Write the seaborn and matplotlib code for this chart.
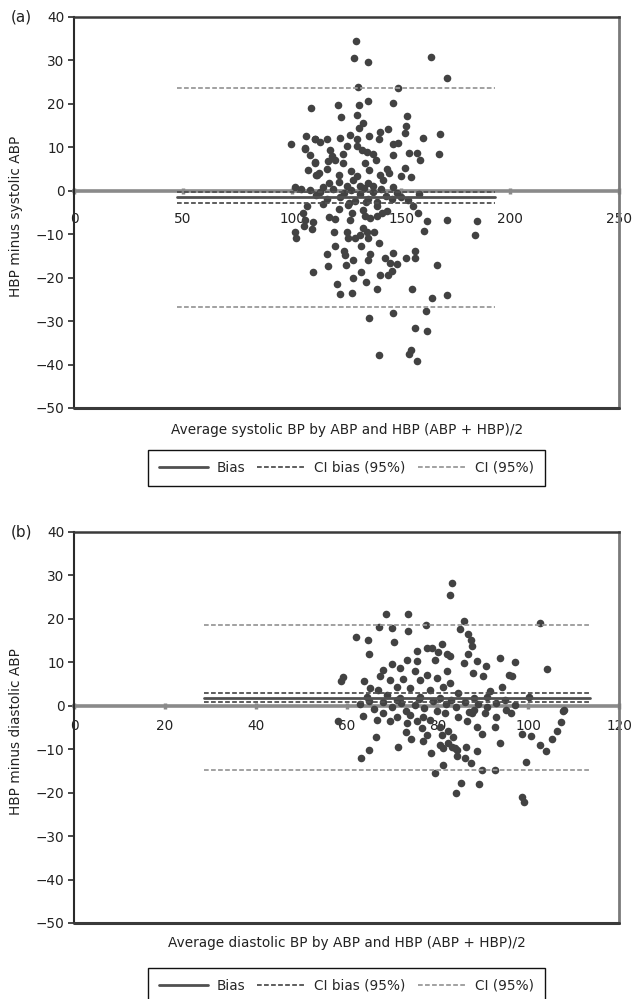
import pandas as pd
import matplotlib
matplotlib.use("Agg")
import matplotlib.pyplot as plt
import seaborn as sns

# ---- panel (a): systolic ----
sys_mean = [
    129.4, 128.4, 134.9, 163.6, 171.1, 130.1, 148.8, 108.7, 121.0, 134.7, 130.9, 146.2,
    122.5, 129.8, 152.6, 132.4, 130.6, 144.2, 152.3, 151.8, 140.5, 135.5, 106.6, 126.6,
    122.2, 110.7, 112.8, 115.9, 99.4, 160.2, 167.9, 130.0, 139.8, 148.5, 146.5, 125.2,
    105.8, 117.4, 129.7, 132.0, 134.4, 108.3, 123.2, 118.5, 137.2, 146.3, 153.5, 157.2,
    167.4, 158.7, 138.4, 110.4, 116.4, 119.7, 123.5, 133.5, 151.8, 107.3, 112.5, 115.9,
    126.9, 135.5, 143.4, 144.5, 110.9, 121.3, 129.7, 140.4, 149.9, 154.4, 117.1, 121.7,
    128.1, 135.0, 141.9, 101.2, 108.3, 114.4, 125.1, 131.2, 137.3, 146.5,
    106.0, 110.6, 111.3, 110.6,
    104, 111, 116, 119, 122, 124, 127, 129, 131, 133, 135, 137, 139, 141, 143, 146,
    148, 150, 153, 158, 113, 126, 134,
    106.7, 114.4, 121.3, 125.8, 132.7, 138.8, 143.4, 155.6, 157.9, 109.8, 105.5, 109.0,
    117.1, 119.7, 126.6, 127.4, 133.5, 135.8, 138.8, 141.1, 161.8, 171.0, 184.7, 183.9,
    160.7, 101.4, 101.8, 119.3, 125.1, 125.8, 128.9, 132.7, 134.5, 131.2, 137.6, 135.0,
    139.9, 119.7, 131.5, 124.0, 156.4, 115.9, 124.3, 135.8, 146.2, 156.4, 152.3, 135.0,
    142.7, 128.1, 116.7, 124.6, 145.0, 148.3, 145.7, 144.2, 166.7, 109.5, 131.7, 128.1,
    140.4, 133.8, 120.5, 122.0, 127.4, 138.8, 154.9, 164.1, 171.0, 146.2, 161.3, 135.5,
    156.4, 161.8, 140.1, 153.7, 154.6, 157.5, 105.2, 106.0,
]
sys_diff = [
    34.4, 30.6, 29.6, 30.9, 25.9, 23.8, 23.7, 19.1, 19.7, 20.7, 19.7, 20.3,
    16.9, 17.5, 17.2, 15.6, 14.4, 14.3, 15.0, 13.4, 13.6, 12.7, 12.5, 12.8,
    12.1, 11.9, 11.3, 11.8, 10.7, 12.1, 13.1, 11.8, 11.9, 11.1, 10.8, 10.4,
    9.9, 9.3, 10.2, 9.4, 9.0, 8.3, 8.5, 7.9, 8.4, 8.3, 8.8, 8.8,
    8.5, 7.1, 7.1, 6.7, 6.8, 7.1, 6.4, 6.4, 5.2, 4.8, 4.2, 5.0,
    4.5, 4.7, 5.0, 4.1, 3.7, 3.7, 3.5, 3.7, 3.5, 3.1, 1.8, 2.1,
    2.5, 1.8, 2.5, 0.8, 0.1, 0.8, 1.0, 1.2, 1.0, 0.9,
    9.6, 6.5, 3.7, 11.8,
    0.3, -1.0, -2.0, 0.5, -1.5, -0.5, 0.2, -2.3, -0.8, 0.6, -1.8, -0.3, -2.6, 0.4, -1.2, -2.0,
    -0.5, -1.5, -2.2, -0.8, -0.2, -2.8, -2.6,
    -3.4, -3.1, -4.1, -3.2, -4.4, -3.4, -4.6, -3.6, -5.1, -7.2, -8.0, -8.8,
    -6.1, -6.5, -6.7, -5.1, -5.7, -6.3, -5.9, -5.1, -6.9, -6.8, -6.9, -10.1,
    -9.2, -9.6, -10.8, -9.4, -9.4, -10.8, -10.9, -8.6, -9.4, -10.1, -9.5, -10.9,
    -12.1, -12.7, -12.8, -13.8, -13.8, -14.6, -14.7, -14.6, -14.4, -15.4, -15.5, -15.9,
    -15.5, -15.9, -17.3, -17.1, -16.7, -16.9, -18.4, -19.4, -17.1, -18.7, -18.6, -20.1,
    -19.4, -20.9, -21.5, -23.8, -23.5, -22.6, -22.6, -24.7, -24.1, -28.2, -27.6, -29.3,
    -31.6, -32.2, -37.8, -37.6, -36.6, -39.1, -5.1, -6.7,
]
sys_range = [47, 193]
sys_bias = -1.5
sys_ci_bias = [-0.2, -2.9]
sys_ci = [23.7, -26.8]

# ---- panel (b): diastolic ----
dia_mean = [
    83.3, 82.8, 68.7, 73.6, 67.2, 70.0, 77.5, 85.8, 102.5, 84.9, 73.6, 62.0,
    64.8, 86.8, 87.4, 87.6, 70.5, 65.0, 75.5, 77.7, 78.8, 81.1, 80.2, 82.1,
    82.8, 86.8, 93.7, 97.1, 73.3, 75.5, 79.4, 70.0, 85.8, 88.7, 90.6, 104.2,
    59.2, 58.8, 68.1, 71.8, 75.1, 77.7, 82.1, 87.8, 90.0, 95.7, 96.5, 63.9,
    67.4, 69.6, 72.5, 76.2, 79.9, 82.8, 94.2, 65.2, 67.0, 71.1, 74.0, 78.4,
    81.3, 84.6, 91.6, 64.5, 68.9, 71.8, 76.2, 80.6, 88.0, 90.9, 94.9, 100.1,
    63, 66, 68, 70, 72, 73, 75, 77, 79, 80, 82, 84, 86, 88, 89, 91, 93, 95, 97,
    65, 71, 76, 83, 87,
    58.2, 63.7, 66.7, 68.1, 69.6, 71.1, 74.0, 73.3, 75.6, 76.9, 78.4, 76.6,
    73.1, 77.7, 66.5, 74.2, 76.9, 65.0, 63.1, 71.4, 80.6, 82.4, 83.5, 81.0,
    81.7, 84.6, 86.5, 87.6, 88.7, 89.9, 92.7, 92.9, 96.3, 90.5, 80.6, 81.3,
    82.4, 83.2, 83.9, 84.3, 86.3, 78.6, 84.3, 86.1, 87.5, 88.8, 93.7, 81.3,
    79.4, 89.8, 92.6, 85.2, 89.1, 84.1, 98.7, 100.5, 102.5, 103.9, 99.6, 98.6,
    99.1, 105.2, 106.3, 107.3, 107.6, 107.8,
]
dia_diff = [
    28.3, 25.5, 21.2, 21.1, 18.2, 18.0, 18.7, 19.4, 19.1, 17.7, 17.1, 15.8,
    15.2, 16.4, 15.2, 13.7, 14.6, 12.0, 12.7, 13.3, 13.3, 14.1, 12.3, 11.8,
    11.4, 11.8, 11.1, 10.0, 10.6, 10.2, 10.6, 9.7, 9.8, 10.2, 9.1, 8.4,
    6.6, 5.7, 8.3, 8.7, 7.9, 7.1, 7.9, 7.5, 6.9, 7.1, 6.8, 5.7,
    6.8, 6.0, 6.1, 6.0, 6.4, 5.2, 4.4, 4.1, 3.7, 4.4, 4.1, 3.7,
    4.4, 2.9, 3.3, 2.1, 2.5, 1.8, 2.1, 1.8, 1.8, 2.1, 1.4, 2.1,
    0.5, -0.8, 0.9, -0.3, 0.6, -1.2, 0.2, -0.6, 1.0, -1.1, 0.3, -0.4, 0.8, -0.9, 0.4, -0.2, 0.7, -1.0, 0.1,
    1.2, 1.3, 1.5, 1.4, -1.5,
    -3.6, -2.3, -3.2, -1.7, -3.6, -2.5, -2.1, -4.0, -3.4, -2.5, -3.2, -5.1,
    -6.1, -6.7, -7.1, -7.7, -8.2, -10.1, -12.1, -9.5, -4.8, -5.9, -7.1, -6.7,
    -1.7, -2.5, -3.6, -1.7, -4.8, -6.5, -4.8, -2.5, -1.7, -1.7, -9.0, -9.7,
    -8.6, -9.4, -9.7, -10.1, -9.4, -10.9, -11.5, -12.1, -13.2, -10.5, -8.6, -13.6,
    -15.5, -14.7, -14.9, -17.7, -18.0, -20.0, -6.6, -7.0, -9.1, -10.4, -12.9, -20.9,
    -22.1, -7.7, -5.9, -3.8, -1.1, -0.9,
]
dia_range = [28.5, 113.5]
dia_bias = 1.8
dia_ci_bias = [2.9, 0.8]
dia_ci = [18.5, -14.9]

sns.set_style("white")
plt.rcParams["font.family"] = ["DejaVu Sans"]

fig = plt.figure(figsize=(6.33, 9.99), dpi=100)
ax_a = fig.add_axes([0.117, 0.5916, 0.861, 0.3914])
ax_b = fig.add_axes([0.117, 0.0761, 0.861, 0.3914])

dot_col = "#424242"
dark = "#505050"
light = "#9a9a9a"
txt = "#222222"
fs = 9.8


def panel(ax, xs, ys, xmax, xstep, xr, bias, ci_bias, ci, xlabel, ylabel, tag, pad,
          xlab_y, leg_y):
    df = pd.DataFrame({"mean": xs, "diff": ys})
    sns.scatterplot(data=df, x="mean", y="diff", ax=ax, color=dot_col, s=30,
                    linewidth=0, zorder=3)
    h_bias, = ax.plot(xr, [bias, bias], color=dark, lw=2.0, zorder=4, label="Bias")
    h_cib = None
    for v in ci_bias:
        h_cib, = ax.plot(xr, [v, v], color=dark, lw=1.3, ls=(0, (2.6, 1.3)), zorder=4,
                         label="CI bias (95%)")
    h_ci = None
    for v in ci:
        h_ci, = ax.plot(xr, [v, v], color=light, lw=1.3, ls=(0, (2.6, 1.3)), zorder=4,
                        label="CI (95%)")

    ax.set_xlim(0, xmax)
    ax.set_ylim(-50, 40)
    ax.set_xticks(range(0, xmax + 1, xstep))
    ax.set_yticks(range(-50, 41, 10))

    # excel style: x axis crosses at zero
    ax.spines["bottom"].set_position(("data", 0))
    ax.spines["bottom"].set_color("#8a8a8a")
    ax.spines["bottom"].set_linewidth(2.6)
    ax.spines["bottom"].set_zorder(2)
    ax.spines["left"].set_color("#2a2a2a")
    ax.spines["left"].set_linewidth(1.5)
    ax.spines["top"].set_color("#3a3a3a")
    ax.spines["top"].set_linewidth(1.8)
    ax.spines["right"].set_color("#7a7a7a")
    ax.spines["right"].set_linewidth(2.0)
    ax.axhline(-50, color="#3a3a3a", lw=2.2, clip_on=False, zorder=5)

    ax.tick_params(axis="x", bottom=True, direction="inout", length=5, width=2.5,
                   color="#8a8a8a", labelsize=fs, labelcolor=txt, pad=pad)
    ax.tick_params(axis="y", left=True, direction="out", length=4, width=1.2,
                   color="#2a2a2a", labelsize=fs, labelcolor=txt, pad=3)

    ax.set_xlabel(xlabel, fontsize=fs, color=txt)
    ax.set_ylabel(ylabel, fontsize=fs, color=txt)
    ax.xaxis.set_label_coords(0.5, xlab_y)
    ax.yaxis.set_label_coords(-0.094, 0.49)

    ax.text(-0.117, 1.0, tag, transform=ax.transAxes, fontsize=11, color=txt,
            ha="left", va="center")

    leg = ax.legend(handles=[h_bias, h_cib, h_ci], loc="center",
                    bbox_to_anchor=(0.5, leg_y), ncol=3, frameon=True, fancybox=False,
                    edgecolor="#111111", framealpha=1, fontsize=fs, handlelength=3.6,
                    columnspacing=0.9, handletextpad=0.6, borderpad=0.8)
    leg.get_frame().set_linewidth(1.0)


panel(ax_a, sys_mean, sys_diff, 250, 50, sys_range, sys_bias, sys_ci_bias, sys_ci,
      "Average systolic BP by ABP and HBP (ABP + HBP)/2", "HBP minus systolic ABP",
      "(a)", 13, -0.038, -0.153)
panel(ax_b, dia_mean, dia_diff, 120, 20, dia_range, dia_bias, dia_ci_bias, dia_ci,
      "Average diastolic BP by ABP and HBP (ABP + HBP)/2", "HBP minus diastolic ABP",
      "(b)", 7, -0.033, -0.16)

fig.savefig("out.png", dpi=100)
